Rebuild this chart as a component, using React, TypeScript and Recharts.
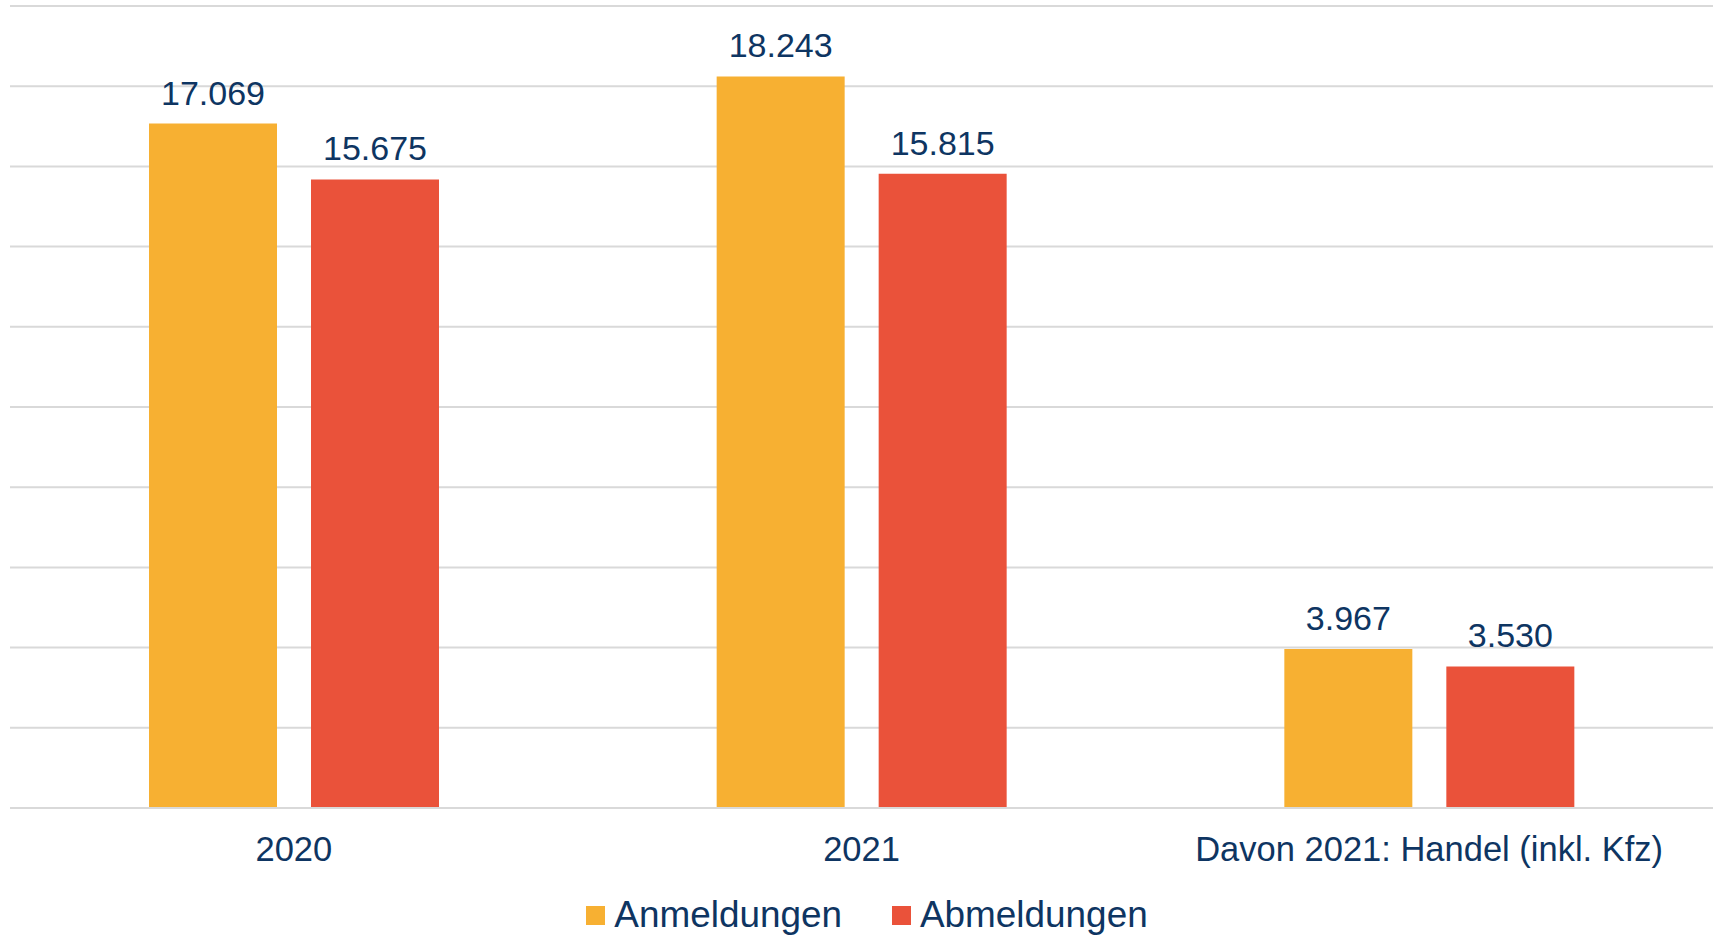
import React from 'react';
import { BarChart, Bar, XAxis, YAxis, CartesianGrid, Legend, LabelList } from 'recharts';

const categories = ['2020', '2021', 'Davon 2021: Handel (inkl. Kfz)'];
const anmeldungen = [17069, 18243, 3967];
const abmeldungen = [15675, 15815, 3530];
const yTicks = [0, 2000, 4000, 6000, 8000, 10000, 12000, 14000, 16000, 18000, 20000];

const ORANGE = '#f7b032';
const RED = '#ea523a';
const NAVY = '#0e3562';
const GRID = '#d9d9d9';
const FONT = '"Liberation Sans", Arial, sans-serif';

const data = categories.map((name, i) => ({
    name,
    anmeldungen: anmeldungen[i],
    abmeldungen: abmeldungen[i],
}));

const fmt = (v: number) => v.toLocaleString('de-DE');

function CategoryTick({ x, y, payload }: any) {
    return (
        <text x={x} y={y} dy={53} textAnchor="middle" fill={NAVY} fontSize={34.5} fontFamily={FONT}>
            {payload.value}
        </text>
    );
}

function LegendContent() {
    const items = [
        { label: 'Anmeldungen', color: ORANGE },
        { label: 'Abmeldungen', color: RED },
    ];
    return (
        <div style={{ display: 'flex', justifyContent: 'center', alignItems: 'center', height: 40, paddingLeft: 11, fontFamily: FONT }}>
            {items.map((it, i) => (
                <div key={it.label} style={{ display: 'flex', alignItems: 'center', marginLeft: i ? 50 : 0 }}>
                    <div style={{ width: 19, height: 19, background: it.color, marginRight: 9 }} />
                    <span style={{ fontSize: 36.9, lineHeight: '40px', color: NAVY }}>{it.label}</span>
                </div>
            ))}
        </div>
    );
}

export default function App() {
    return (
        <div style={{ position: 'fixed', left: 0, top: 0, width: 1713, height: 935, background: '#fff' }}>
            <BarChart
                width={1713}
                height={935}
                data={data}
                margin={{ top: 6, right: 0, left: 10, bottom: 0 }}
                barSize={128}
                barGap={34}
            >
                <CartesianGrid vertical={false} stroke={GRID} strokeWidth={2} />
                <YAxis hide domain={[0, 20000]} ticks={yTicks} />
                <XAxis
                    dataKey="name"
                    height={87}
                    tickLine={false}
                    tickSize={0}
                    tickMargin={0}
                    axisLine={{ stroke: GRID, strokeWidth: 2 }}
                    tick={<CategoryTick />}
                    interval={0}
                />
                <Legend verticalAlign="bottom" content={<LegendContent />} wrapperStyle={{ bottom: 0 }} />
                <Bar dataKey="anmeldungen" name="Anmeldungen" fill={ORANGE} isAnimationActive={false}>
                    <LabelList dataKey="anmeldungen" position="top" offset={19} formatter={fmt} fill={NAVY} fontSize={34} fontFamily={FONT} />
                </Bar>
                <Bar dataKey="abmeldungen" name="Abmeldungen" fill={RED} isAnimationActive={false}>
                    <LabelList dataKey="abmeldungen" position="top" offset={19} formatter={fmt} fill={NAVY} fontSize={34} fontFamily={FONT} />
                </Bar>
            </BarChart>
        </div>
    );
}
